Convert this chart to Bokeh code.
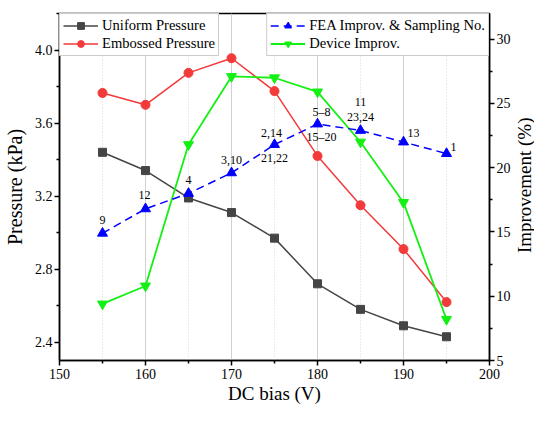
import math
from bokeh.plotting import figure
from bokeh.layouts import row
from bokeh.models import (Range1d, LinearAxis, FixedTicker, Legend, LegendItem,
                          ColumnDataSource, NumeralTickFormatter)
from bokeh.core.properties import value
from bokeh.embed import file_html
from bokeh.resources import INLINE

# ---- data ----
dc_bias = [155, 160, 165, 170, 175, 180, 185, 190, 195]
uniform_pressure = [3.44, 3.34, 3.19, 3.11, 2.97, 2.72, 2.58, 2.49, 2.43]
embossed_pressure = [3.765, 3.70, 3.875, 3.955, 3.775, 3.42, 3.15, 2.91, 2.62]
fea_improvement = [14.9, 16.8, 18.0, 19.6, 21.8, 23.4, 22.9, 22.0, 21.1]
device_improvement = [9.4, 10.8, 21.8, 27.1, 27.0, 25.9, 22.0, 17.3, 8.2]

sample_bias = [155, 160, 165, 170, 175, 175, 180, 180, 185, 185, 190, 195]
sample_text = ["9", "12", "4", "3,10", "2,14", "21,22", "5\u20138", "15\u201320",
               "11", "23,24", "13", "1"]

x_ticks = [150, 160, 170, 180, 190, 200]
x_minor = [155, 165, 175, 185, 195]
left_ticks = [2.4, 2.8, 3.2, 3.6, 4.0]
left_minor = [2.6, 3.0, 3.4, 3.8, 4.2]
right_ticks = [5, 10, 15, 20, 25, 30]
right_minor = [7.5, 12.5, 17.5, 22.5, 27.5]

x_title = "DC bias (V)"
left_title = "Pressure (kPa)"
right_title = "Improvement (%)"

# label placement (styling, screen pixels)
label_dx = [0, -1, 0, 0, -3, 0, 4, 4, 0, 0, 10, 7]
label_dy = [-13, -14, -13, -13, -12, 13, -12, 13, -28, -13, -9, -7]

FONT = "Liberation Serif"
H = 408

p = figure(width=513, height=H, output_backend="svg", toolbar_location=None,
           x_range=Range1d(150, 200), y_range=Range1d(2.3, 4.2),
           min_border_left=59, min_border_right=22, min_border_top=13,
           min_border_bottom=48)
p.extra_y_ranges = {"imp": Range1d(5, 32)}

p.outline_line_color = "black"
p.outline_line_width = 1.5
p.background_fill_color = "white"
p.border_fill_color = "white"

# grids
p.ygrid.visible = False
p.xgrid.ticker = FixedTicker(ticks=x_ticks, minor_ticks=x_minor)
p.xgrid.grid_line_color = "#d0d0d0"
p.xgrid.grid_line_width = 1
p.xgrid.minor_grid_line_color = "#d8d8d8"
p.xgrid.minor_grid_line_dash = "1 2"
p.xgrid.minor_grid_line_width = 1

def style_axis(ax):
    ax.axis_line_color = "black"
    ax.axis_line_width = 1.5
    ax.major_tick_line_color = "black"
    ax.major_tick_line_width = 1.5
    ax.minor_tick_line_color = "black"
    ax.minor_tick_line_width = 1.5
    ax.major_tick_out = 5
    ax.major_tick_in = 0
    ax.minor_tick_out = 3
    ax.minor_tick_in = 0
    ax.major_label_text_font = FONT
    ax.major_label_text_font_size = "14px"
    ax.major_label_text_color = "black"
    ax.axis_label_text_font = FONT
    ax.axis_label_text_font_size = "19px"
    ax.axis_label_text_font_style = "normal"
    ax.axis_label_text_color = "black"

xa = p.xaxis[0]
xa.ticker = FixedTicker(ticks=x_ticks, minor_ticks=x_minor)
xa.axis_label = x_title
style_axis(xa)
xa.major_label_standoff = 3
xa.axis_label_standoff = 1

ya = p.yaxis[0]
ya.ticker = FixedTicker(ticks=left_ticks, minor_ticks=left_minor)
ya.formatter = NumeralTickFormatter(format="0.0")
ya.axis_label = left_title
style_axis(ya)
ya.axis_label_text_font_size = "20px"
ya.major_label_standoff = 2
ya.axis_label_standoff = 6

ra = LinearAxis(y_range_name="imp",
                ticker=FixedTicker(ticks=right_ticks, minor_ticks=right_minor))
style_axis(ra)
ra.major_label_standoff = 2
p.add_layout(ra, "right")

# series
src = ColumnDataSource(dict(x=dc_bias, u=uniform_pressure, e=embossed_pressure,
                            f=fea_improvement, d=device_improvement))

GRAY = "#454545"
RED = "#f23a3a"
BLUE = "#0000ff"
GREEN = "#14f014"

u_line = p.line("x", "u", source=src, line_color=GRAY, line_width=1.5)
u_mark = p.scatter("x", "u", source=src, marker="square", size=8,
                   fill_color=GRAY, line_color=GRAY)

e_line = p.line("x", "e", source=src, line_color=RED, line_width=1.5)
e_mark = p.scatter("x", "e", source=src, marker="circle", size=9,
                   fill_color=RED, line_color=RED)

d_line = p.line("x", "d", source=src, line_color=GREEN, line_width=1.8,
                y_range_name="imp")
d_mark = p.scatter("x", "d", source=src, marker="inverted_triangle", size=10,
                   fill_color=GREEN, line_color=GREEN, y_range_name="imp")

f_line = p.line("x", "f", source=src, line_color=BLUE, line_width=1.5,
                line_dash="8 5", y_range_name="imp")
f_mark = p.scatter("x", "f", source=src, marker="triangle", size=10,
                   fill_color=BLUE, line_color=BLUE, y_range_name="imp")

# sampling-number labels
fea_lookup = dict(zip(dc_bias, fea_improvement))
lab_src = ColumnDataSource(dict(x=sample_bias,
                                y=[fea_lookup[b] for b in sample_bias],
                                t=sample_text, dx=label_dx, dy=label_dy))
p.text("x", "y", text="t", source=lab_src, y_range_name="imp",
       x_offset="dx", y_offset="dy", text_align="center",
       text_baseline="middle", text_font=value(FONT),
       text_font_size="12px", text_color="black")

def make_legend(items, loc):
    lg = Legend(items=items, location=loc)
    lg.margin = 0
    lg.padding = 3
    lg.spacing = 1
    lg.glyph_width = 35
    lg.glyph_height = 17
    lg.label_height = 17
    lg.label_standoff = 4
    lg.label_text_font = FONT
    lg.label_text_font_size = "14.6px"
    lg.label_text_color = "black"
    lg.border_line_color = "#999999"
    lg.border_line_width = 1
    lg.background_fill_alpha = 1.0
    return lg

left_leg = make_legend([
    LegendItem(label="Uniform Pressure", renderers=[u_line, u_mark]),
    LegendItem(label="Embossed Pressure", renderers=[e_line, e_mark]),
], "top_left")
right_leg = make_legend([
    LegendItem(label="FEA Improv. & Sampling No.", renderers=[f_line, f_mark]),
    LegendItem(label="Device Improv.", renderers=[d_line, d_mark]),
], "top_right")
p.add_layout(left_leg)
p.add_layout(right_leg)

# narrow strip holding the right-axis title, reading bottom-to-top
strip = figure(width=21, height=H, output_backend="svg", toolbar_location=None,
               x_range=Range1d(0, 1), y_range=Range1d(0, H), min_border=0)
strip.axis.visible = False
strip.grid.visible = False
strip.outline_line_color = None
strip.background_fill_color = "white"
strip.border_fill_color = "white"
strip.text(x=[0.5], y=[H - 202], text=[right_title], angle=math.pi / 2,
           text_align="center", text_baseline="middle",
           text_font=value(FONT), text_font_size="19px", text_color="black")

layout = row(p, strip, spacing=0)
open("out.html", "w").write(file_html(layout, INLINE))
